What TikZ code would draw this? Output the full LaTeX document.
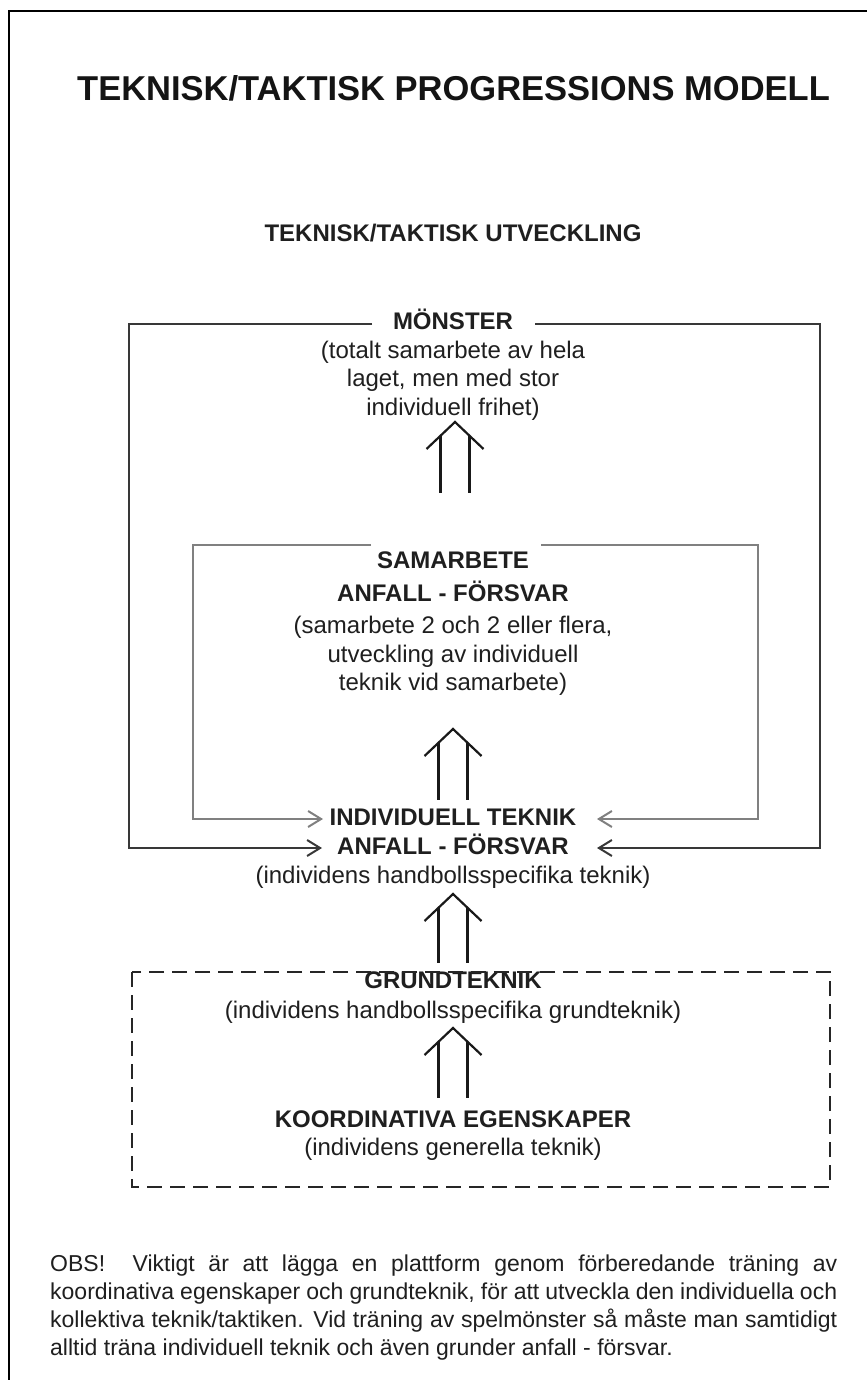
\documentclass[tikz,border=0pt]{standalone}
\usepackage{fontspec}
\setmainfont{Liberation Sans}
\usetikzlibrary{arrows.meta,calc}
\newcommand\dblup[2]{%
  \draw[shaft] ($(#1)+(-28.5,27)$) -- (#1) -- ($(#1)+(28.5,27)$);
  \draw[shaft] ($(#1)+(-14.5,13.7)$) -- ($(#2)+(-14.5,0)$);
  \draw[shaft] ($(#1)+(14.5,13.7)$) -- ($(#2)+(14.5,0)$);
}
\begin{document}
\begin{tikzpicture}[x=1pt,y=-1pt,
  txt/.style={font=\fontsize{24}{28.5}\selectfont, text=black!88, align=center, inner sep=0pt},
  hd/.style={txt, font=\fontsize{24}{28.5}\selectfont\bfseries},
  ttl/.style={font=\fontsize{34.5}{40}\selectfont\bfseries, text=black!92, inner sep=0pt},
  obstxt/.style={font=\fontsize{23}{28.3}\selectfont, text=black!88, align=left, inner sep=0pt},
  frameline/.style={line width=2pt, draw=black},
  outerline/.style={line width=2pt, draw=black!78},
  innerline/.style={line width=2pt, draw=black!50},
  dashbox/.style={line width=2pt, draw=black!85, dash pattern=on 15pt off 8pt},
  shaft/.style={line width=2.2pt, draw=black!90},
  barb/.style={-{Straight Barb[length=13pt,width=16pt]}}
]
\useasboundingbox (0,0) rectangle (867,1380);
\fill[white] (0,0) rectangle (867,1380);
% page frame
\draw[frameline] (9,1380) -- (9,11) -- (867,11);

% texts
\node[ttl] (title) at (453.5,88) {TEKNISK/TAKTISK PROGRESSIONS MODELL};
\node[hd] (sub) at (453,233) {TEKNISK/TAKTISK UTVECKLING};
\node[txt] (mon) at (453,364.5) {\textbf{MÖNSTER}\\(totalt samarbete av hela\\laget, men med stor\\individuell frihet)};
\node[txt] (sam) at (453,624) {\textbf{SAMARBETE}\\[4pt]\textbf{ANFALL - FÖRSVAR}\\[4pt](samarbete 2 och 2 eller flera,\\utveckling av individuell\\teknik vid samarbete)};
\node[txt] (ind) at (453,849) {\textbf{INDIVIDUELL TEKNIK}\\\textbf{ANFALL - FÖRSVAR}\\[1pt](individens handbollsspecifika teknik)};
\node[txt] (gru) at (453,998) {\textbf{GRUNDTEKNIK}\\[1.5pt](individens handbollsspecifika grundteknik)};
\node[txt] (koo) at (453,1135.5) {\textbf{KOORDINATIVA EGENSKAPER}\\(individens generella teknik)};
\node[obstxt, anchor=west] (obs) at (50,1307.5) {%
\makebox[787pt][s]{OBS!\ \ Viktigt är att lägga en plattform genom förberedande träning av}\\
\makebox[787pt][s]{koordinativa egenskaper och grundteknik, för att utveckla den individuella och}\\
\makebox[787pt][s]{kollektiva teknik/taktiken. Vid träning av spelmönster så måste man samtidigt}\\
alltid träna individuell teknik och även grunder anfall - försvar.};

% arrow end points
\coordinate (oL) at (322,848);
\coordinate (oR) at (597,848);
\coordinate (iL) at (323,819);
\coordinate (iR) at (597,819);

% outer box (MÖNSTER)
\draw[outerline, barb] (372,324) -- (129,324) -- (129,848) -- (oL);
\draw[outerline, barb] (535,324) -- (820,324) -- (820,848) -- (oR);
% inner box (SAMARBETE)
\draw[innerline, barb] (371,545) -- (193,545) -- (193,819) -- (iL);
\draw[innerline, barb] (541,545) -- (758,545) -- (758,819) -- (iR);
% dashed box
\draw[dashbox] (132,972) rectangle (830,1187);

% double arrows
\coordinate (a1t) at (455,422); \coordinate (a1b) at (455,493);
\coordinate (a2t) at (453,729); \coordinate (a2b) at (453,800);
\coordinate (a3t) at (453,894); \coordinate (a3b) at (453,963);
\coordinate (a4t) at (453,1028); \coordinate (a4b) at (453,1098);
\dblup{a1t}{a1b}
\dblup{a2t}{a2b}
\dblup{a3t}{a3b}
\dblup{a4t}{a4b}
\end{tikzpicture}
\end{document}
